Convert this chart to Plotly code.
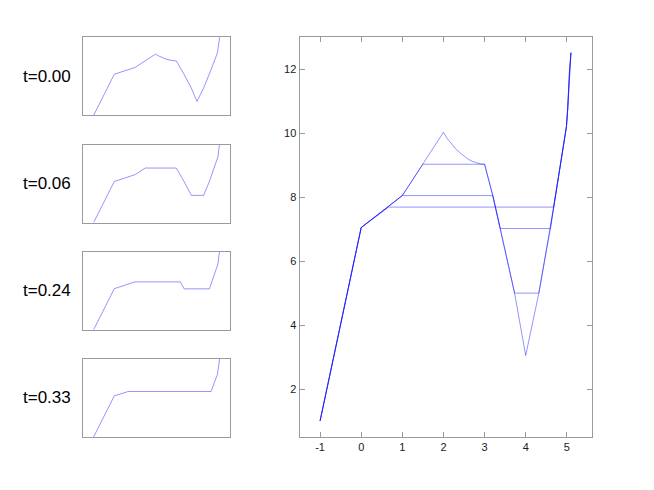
import plotly.graph_objects as go

# The page has an 8px body margin, so the figure is made 16px smaller
# and all pixel positions below are page positions minus 8.
OFF = 8
W, H = 654 - 2 * OFF, 490 - 2 * OFF

# ---- data: the four snapshots of the curve ----
labels = ["t=0.00", "t=0.06", "t=0.24", "t=0.33"]

x_t000 = [-1, 0, 1, 2, 2.1, 2.2, 2.3, 2.4, 2.5, 2.6, 2.7, 2.8, 2.9, 3,
          3.2, 3.38, 3.73, 4, 4.32, 4.6, 4.68, 4.99, 5.02, 5.06, 5.1]
y_t000 = [1, 7.05, 8.05, 10.03, 9.82, 9.66, 9.51, 9.39, 9.28, 9.19, 9.12, 9.07, 9.04, 9.03,
          8.05, 7.02, 5.0, 3.05, 5.0, 7.02, 7.69, 10.2, 10.73, 11.87, 12.52]

x_t006 = [-1, 0, 1, 1.5, 3, 3.2, 3.38, 3.73, 4.32, 4.6, 4.68, 4.99, 5.02, 5.06, 5.1]
y_t006 = [1, 7.05, 8.05, 9.03, 9.03, 8.05, 7.02, 5.0, 5.0, 7.02, 7.69, 10.2, 10.73, 11.87, 12.52]

x_t024 = [-1, 0, 1, 3.2, 3.38, 4.6, 4.68, 4.99, 5.02, 5.06, 5.1]
y_t024 = [1, 7.05, 8.05, 8.05, 7.02, 7.02, 7.69, 10.2, 10.73, 11.87, 12.52]

x_t033 = [-1, 0, 0.67, 4.68, 4.99, 5.02, 5.06, 5.1]
y_t033 = [1, 7.05, 7.69, 7.69, 10.2, 10.73, 11.87, 12.52]

xs = [x_t000, x_t006, x_t024, x_t033]
ys = [y_t000, y_t006, y_t024, y_t033]

x_ticks = [-1, 0, 1, 2, 3, 4, 5]
y_ticks = [2, 4, 6, 8, 10, 12]

# ---- layout geometry (page pixels) ----
LINE_COLOR = "rgba(0,0,255,0.42)"
AX_COLOR = "#9a9a9a"

main_left, main_right = 299.5, 591.5
main_top, main_bottom = 37.3, 437.0
small_left, small_right = 83.3, 230.0
small_tops = [37.3, 144.5, 251.7, 358.9]
small_h = 78.0

def px_x(p):
    return (p - OFF) / W

def px_y(p):
    return 1 - (p - OFF) / H

fig = go.Figure()

# main panel
for i in range(4):
    fig.add_trace(go.Scatter(x=xs[i], y=ys[i], mode="lines",
                             line=dict(color=LINE_COLOR, width=1),
                             xaxis="x", yaxis="y", showlegend=False,
                             hoverinfo="skip"))

# small panels
for i in range(4):
    fig.add_trace(go.Scatter(x=xs[i], y=ys[i], mode="lines",
                             line=dict(color=LINE_COLOR, width=1),
                             xaxis="x%d" % (i + 2), yaxis="y%d" % (i + 2),
                             showlegend=False, hoverinfo="skip"))

layout = dict(
    width=W, height=H,
    margin=dict(l=0, r=0, t=0, b=0),
    paper_bgcolor="white", plot_bgcolor="white",
    font=dict(family="Liberation Sans, Arial, sans-serif", color="#1a1a1a", size=11),
    xaxis=dict(domain=[px_x(main_left), px_x(main_right)], range=[-1.5, 5.6],
               tickvals=x_ticks, ticktext=[str(v) for v in x_ticks],
               ticks="inside", ticklen=5, tickcolor=AX_COLOR, showline=True,
               linecolor=AX_COLOR, linewidth=1, mirror="ticks",
               showgrid=False, zeroline=False, anchor="y"),
    yaxis=dict(domain=[px_y(main_bottom), px_y(main_top)], range=[0.5, 13],
               tickvals=y_ticks, ticktext=[str(v) for v in y_ticks],
               ticks="inside", ticklen=5, tickcolor=AX_COLOR, showline=True,
               linecolor=AX_COLOR, linewidth=1, mirror="ticks",
               showgrid=False, zeroline=False, anchor="x"),
)

annotations = []
for i in range(4):
    top = small_tops[i]
    bottom = top + small_h
    layout["xaxis%d" % (i + 2)] = dict(
        domain=[px_x(small_left), px_x(small_right)], range=[-1.5, 5.6],
        showticklabels=False, ticks="", showline=True, linecolor=AX_COLOR,
        linewidth=1, mirror=True, showgrid=False, zeroline=False,
        anchor="y%d" % (i + 2))
    layout["yaxis%d" % (i + 2)] = dict(
        domain=[px_y(bottom), px_y(top)], range=[1, 12.5],
        showticklabels=False, ticks="", showline=True, linecolor=AX_COLOR,
        linewidth=1, mirror=True, showgrid=False, zeroline=False,
        anchor="x%d" % (i + 2))
    annotations.append(dict(
        text=labels[i], xref="paper", yref="paper",
        x=px_x(73), y=px_y((top + bottom) / 2),
        xanchor="right", yanchor="middle", showarrow=False,
        font=dict(size=17, color="black",
                  family="Liberation Sans, Arial, sans-serif")))

layout["annotations"] = annotations
fig.update_layout(**layout)

fig.write_html("out.html")
